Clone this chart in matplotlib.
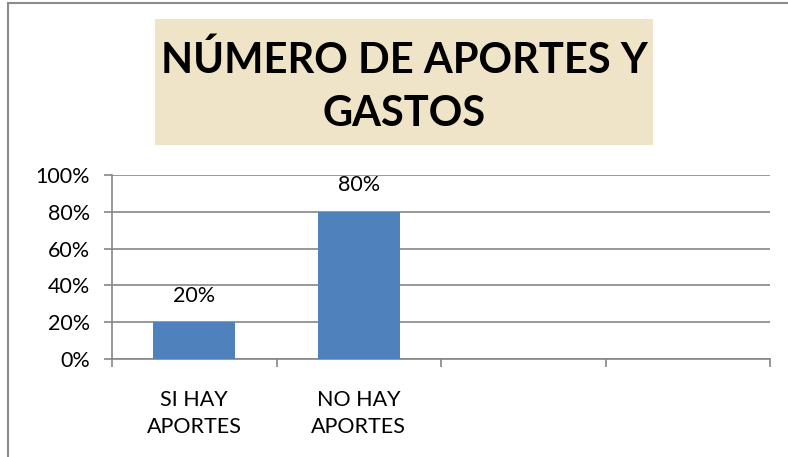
import matplotlib
matplotlib.use("Agg")
import matplotlib.pyplot as plt
from matplotlib.patches import Rectangle
from matplotlib.lines import Line2D

categories = ["SI HAY\nAPORTES", "NO HAY\nAPORTES", "", ""]
values = [0.20, 0.80]
value_labels = ["20%", "80%"]
yticks = [0, 0.2, 0.4, 0.6, 0.8, 1.0]
ytick_labels = ["0%", "20%", "40%", "60%", "80%", "100%"]
title = "NÚMERO DE APORTES Y\nGASTOS"

plt.rcParams['font.family'] = ['Lato', 'DejaVu Sans']

W, H = 788, 457
fig = plt.figure(figsize=(W/100, H/100), dpi=100)
fig.patch.set_facecolor("white")

# outer frame
fig.add_artist(Line2D([8/W, 8/W], [0, 1-3/H], color="#8c8c8c", lw=1.5, transform=fig.transFigure))
fig.add_artist(Line2D([8/W, 1], [1-3/H, 1-3/H], color="#8c8c8c", lw=1.5, transform=fig.transFigure))

# title box
bx0, bx1, by0, by1 = 155, 653, 19, 145
fig.add_artist(Rectangle((bx0/W, 1-by1/H), (bx1-bx0)/W, (by1-by0)/H,
                         transform=fig.transFigure, facecolor="#efe4c8", edgecolor="none"))
fig.text((bx0+bx1)/2/W, 1-87/H, title, ha="center", va="center",
         fontsize=30, fontweight="bold", color="black", linespacing=1.5)

ax = fig.add_axes([112/W, 1-359.3/H, (770-112)/W, (359.3-174.7)/H])
n = len(categories)
positions = [i + 0.5 for i in range(n)]
fs = 15.5
ax.bar(positions[:len(values)], values, width=0.5, color="#4f81bd", zorder=3)
for x, v, lab in zip(positions, values, value_labels):
    ax.text(x, v + 0.09, lab, ha="center", va="bottom", fontsize=fs)

ax.set_xlim(0, n)
ax.set_ylim(0, 1.0)
ax.set_yticks(yticks)
ax.set_yticklabels(ytick_labels, fontsize=fs)
ax.set_xticks(range(n + 1))
ax.set_xticklabels([])
ax.set_xticks(positions, minor=True)
ax.set_xticklabels(categories, minor=True, fontsize=fs, linespacing=1.45)
ax.tick_params(axis="x", which="minor", length=0, pad=22)
ax.tick_params(axis="x", which="major", length=6, color="#868686", width=1.2)
ax.tick_params(axis="y", length=6, color="#868686", width=1.2, pad=10)
ax.grid(axis="y", color="#868686", lw=1.2, zorder=0)
ax.set_axisbelow(True)
for s in ["top", "right"]:
    ax.spines[s].set_visible(False)
for s in ["left", "bottom"]:
    ax.spines[s].set_color("#868686")
    ax.spines[s].set_linewidth(1.2)

fig.savefig("out.png", dpi=100)
